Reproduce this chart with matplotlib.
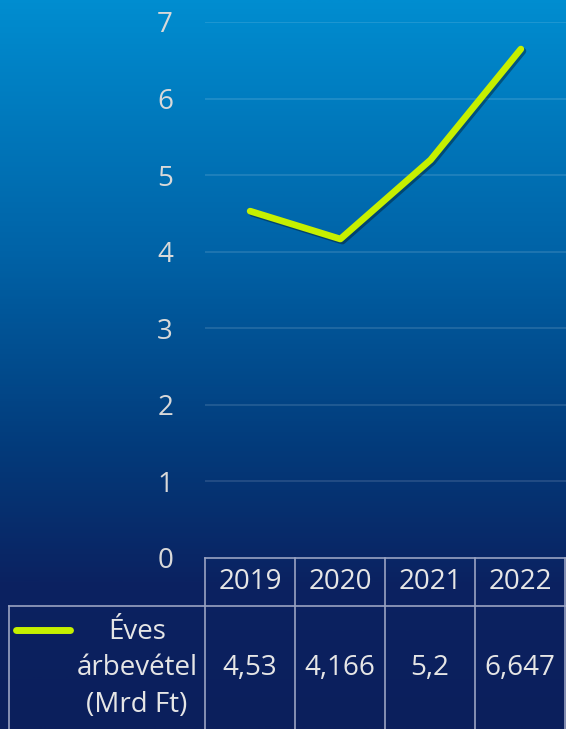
import numpy as np
import matplotlib.pyplot as plt
from matplotlib.colors import LinearSegmentedColormap
import matplotlib.patheffects as pe

plt.rcParams['font.family'] = ['Open Sans', 'DejaVu Sans']

years = ["2019", "2020", "2021", "2022"]
revenue = [4.53, 4.166, 5.2, 6.647]
value_labels = ["4,53", "4,166", "5,2", "6,647"]
series_label = ["Éves", "árbevétel", "(Mrd Ft)"]
yticks = [0, 1, 2, 3, 4, 5, 6, 7]

W, H = 566, 729
fig = plt.figure(figsize=(W / 100, H / 100), dpi=100)

# background gradient
bg = fig.add_axes([0, 0, 1, 1], zorder=-10)
cmap = LinearSegmentedColormap.from_list(
    "bg", [(0, "#008dd0"), (0.35, "#0062a6"), (0.62, "#033a7a"),
           (0.8, "#0b2261"), (1, "#0c1f5c")])
grad = np.linspace(0, 1, 400).reshape(-1, 1)
bg.imshow(grad, aspect="auto", cmap=cmap, extent=[0, 1, 0, 1], origin="upper")
bg.axis("off")

def fx(px):
    return px / W

def fy(py):
    return 1 - py / H

# plot area
x0, x1 = 205, 566
y0, y1 = 558, 22
ax = fig.add_axes([fx(x0), fy(y0), fx(x1) - fx(x0), fy(y1) - fy(y0)])
ax.patch.set_alpha(0)
for s in ax.spines.values():
    s.set_visible(False)
ax.set_xlim(-0.5, 3.5)
ax.set_ylim(0, 7)
ax.set_xticks([])
ax.set_yticks(yticks)
ax.set_yticklabels([str(t) for t in yticks], color="#d9d9d9", fontsize=20)
ax.tick_params(axis="y", length=0, pad=23)
for t in yticks[1:]:
    ax.axhline(t, color="white", alpha=0.14, lw=1.2, zorder=1)

xs = np.arange(len(years))
ax.plot(xs, revenue, color="#c6f000", lw=4.8, solid_capstyle="round",
        solid_joinstyle="round", zorder=3, clip_on=False,
        path_effects=[pe.SimpleLineShadow(offset=(1.5, -1.5), alpha=0.35),
                      pe.Normal()])

# data table
lc = "#9aa3c2"
col_edges = [205, 295, 385, 475, 565]
row_top, row_mid, row_bot = 558, 606, 729
fig.add_artist(plt.Line2D([fx(205), fx(566)], [fy(row_top)] * 2, color=lc, lw=1.2))
fig.add_artist(plt.Line2D([fx(9), fx(566)], [fy(row_mid)] * 2, color=lc, lw=1.2))
for e in col_edges:
    fig.add_artist(plt.Line2D([fx(e)] * 2, [fy(row_top), fy(row_bot)], color=lc, lw=1.2))
fig.add_artist(plt.Line2D([fx(9)] * 2, [fy(row_mid), fy(row_bot)], color=lc, lw=1.2))

for i, (yr, v) in enumerate(zip(years, value_labels)):
    cx = (col_edges[i] + col_edges[i + 1]) / 2
    fig.text(fx(cx), fy(582), yr, ha="center", va="center", color="#e6e6e6", fontsize=20)
    fig.text(fx(cx), fy(668), v, ha="center", va="center", color="#e6e6e6", fontsize=20)

for txt, py in zip(series_label, [632, 668, 705]):
    fig.text(fx(137), fy(py), txt, ha="center", va="center", color="#e6e6e6", fontsize=20)
fig.add_artist(plt.Line2D([fx(16), fx(70)], [fy(630)] * 2, color="#c6f000", lw=5,
                          solid_capstyle="round"))

fig.savefig("out.png", dpi=100)
